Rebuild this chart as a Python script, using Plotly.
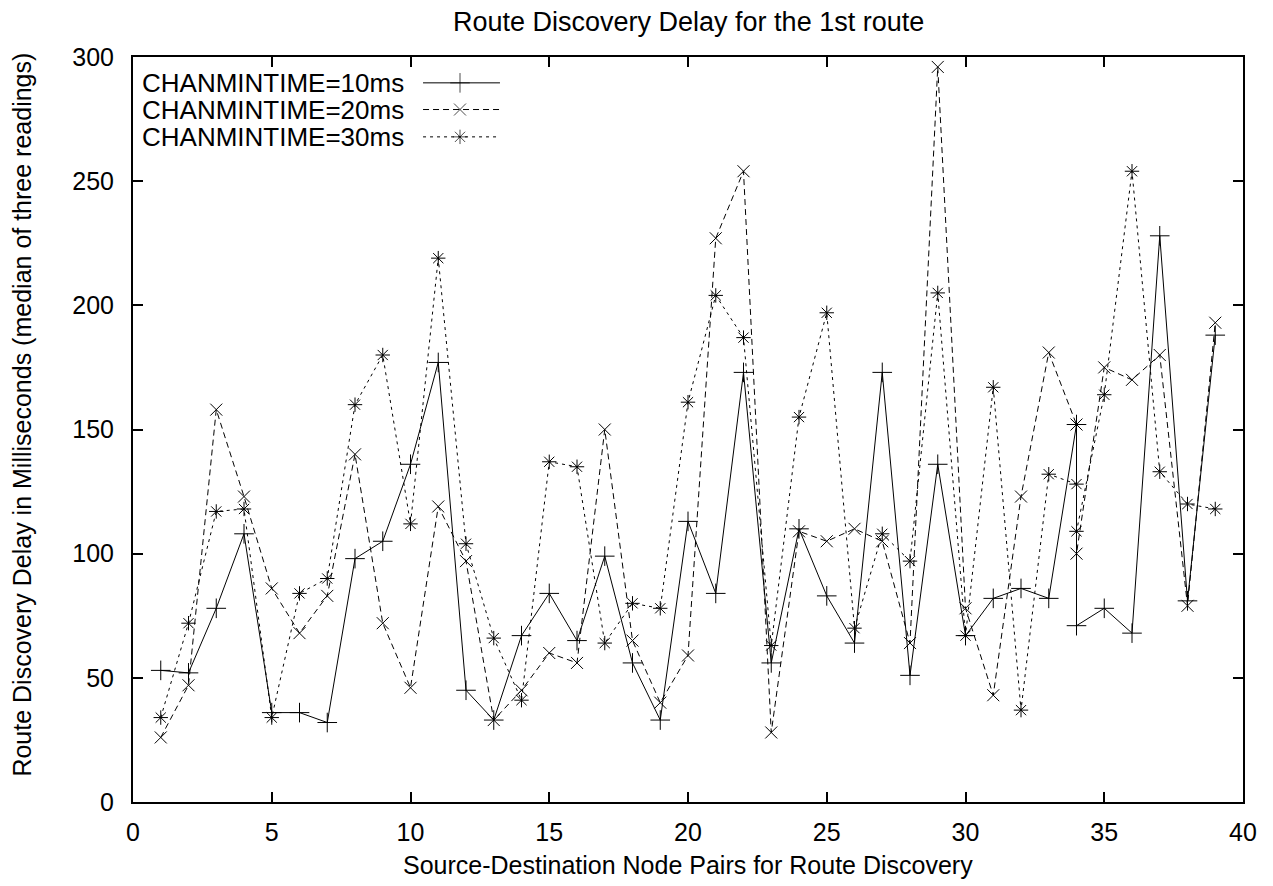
import plotly.graph_objects as go

# ---- data ----
pairs = [1, 2, 3, 4, 5, 6, 7, 8, 9, 10, 11, 12, 13, 14, 15, 16, 17, 18, 19, 20,
         21, 22, 23, 24, 25, 26, 27, 28, 29, 30, 31, 32, 33, 34, 34, 35, 36, 37, 38, 39]
delay_10ms = [53, 52, 78, 108, 36, 36, 32, 98, 105, 136, 177, 45, 33, 67, 84, 65, 99, 56, 33, 113,
              84, 173, 56, 110, 83, 64, 173, 51, 136, 67, 82, 86, 82, 152, 71, 78, 68, 228, 81, 188]
delay_20ms = [26, 47, 158, 123, 86, 68, 83, 140, 72, 46, 119, 97, 33, 45, 60, 56, 150, 65, 40, 59,
              227, 254, 28, 109, 105, 110, 105, 64, 296, 78, 43, 123, 181, 152, 100, 175, 170, 180, 79, 193]
delay_30ms = [34, 72, 117, 118, 34, 84, 90, 160, 180, 112, 219, 104, 66, 41, 137, 135, 64, 80, 78, 161,
              204, 187, 63, 155, 197, 70, 108, 97, 205, 67, 167, 37, 132, 128, 109, 164, 254, 133, 120, 118]
series_names = ["CHANMINTIME=10ms", "CHANMINTIME=20ms", "CHANMINTIME=30ms"]
x_ticks = [0, 5, 10, 15, 20, 25, 30, 35, 40]
y_ticks = [0, 50, 100, 150, 200, 250, 300]

title_text = "Route Discovery Delay for the 1st route"
x_title = "Source-Destination Node Pairs for Route Discovery"
y_title = "Route Discovery Delay in Milliseconds (median of three readings)"

# ---- styles ----
FONT = "Liberation Sans, Arial, Helvetica, sans-serif"
FS = 25
FS_BIG = 27
FS_KEY = 26
styles = [
    dict(dash="solid", symbol="cross-thin-open", size=14),
    dict(dash="6px,4px", symbol="x-thin-open", size=12),
    dict(dash="3px,4px", symbol="asterisk-open", size=12),
]

fig = go.Figure()
for ys, name, st in zip([delay_10ms, delay_20ms, delay_30ms], series_names, styles):
    fig.add_trace(go.Scatter(
        x=pairs, y=ys, mode="lines+markers", name=name, showlegend=False,
        line=dict(color="black", width=1, dash=st["dash"]),
        marker=dict(symbol=st["symbol"], size=st["size"], color="black",
                    line=dict(color="black", width=1)),
        cliponaxis=False,
    ))

# ---- gnuplot-style key (text left, sample right), on an overlay unit axis ----
key_rows = [0.9653, 0.9295, 0.8928]
key_line_x = [0.2613, 0.2946, 0.3306]
for row_y, name, st in zip(key_rows, series_names, styles):
    fig.add_trace(go.Scatter(
        x=key_line_x, y=[row_y] * 3, xaxis="x2", yaxis="y2",
        mode="lines+markers", showlegend=False, hoverinfo="skip",
        line=dict(color="black", width=1, dash=st["dash"]),
        marker=dict(symbol=st["symbol"], size=[0, st["size"], 0], color="black",
                    line=dict(color="black", width=1)),
    ))
    fig.add_annotation(x=0.2459, y=row_y, xref="paper", yref="paper",
                       text=name, showarrow=False, xanchor="right", yanchor="middle",
                       height=24, valign="middle",
                       font=dict(family=FONT, size=FS_KEY, color="black"))

axis_common = dict(
    showgrid=False, zeroline=False, showline=True, linecolor="black", linewidth=2,
    ticks="inside", ticklen=10, tickwidth=1.5, tickcolor="black", mirror="ticks",
    tickfont=dict(family=FONT, size=FS, color="black"),
)
fig.update_layout(
    width=1273, height=886,
    margin=dict(l=133, r=30, t=57, b=84),
    paper_bgcolor="white", plot_bgcolor="white",
    font=dict(family=FONT, size=FS, color="black"),
    xaxis=dict(range=[0, 40], tickvals=x_ticks, ticklabelstandoff=7, **axis_common),
    yaxis=dict(range=[0, 300], tickvals=y_ticks, ticklabelstandoff=12, **axis_common),
    xaxis2=dict(range=[0, 1], overlaying="x", visible=False, domain=[0, 1]),
    yaxis2=dict(range=[0, 1], overlaying="y", visible=False, domain=[0, 1]),
    showlegend=False,
)
fig.add_annotation(x=0.5, y=1.0464, xref="paper", yref="paper", text=title_text,
                   showarrow=False, xanchor="center", yanchor="middle",
                   font=dict(family=FONT, size=FS_BIG, color="black"))
fig.add_annotation(x=0.5, y=-0.085, xref="paper", yref="paper", text=x_title,
                   showarrow=False, xanchor="center", yanchor="middle",
                   font=dict(family=FONT, size=FS, color="black"))
fig.add_annotation(x=-0.1, y=0.52, xref="paper", yref="paper", text=y_title,
                   showarrow=False, xanchor="center", yanchor="middle", textangle=-90,
                   font=dict(family=FONT, size=FS, color="black"))

fig.write_html("out.html")
